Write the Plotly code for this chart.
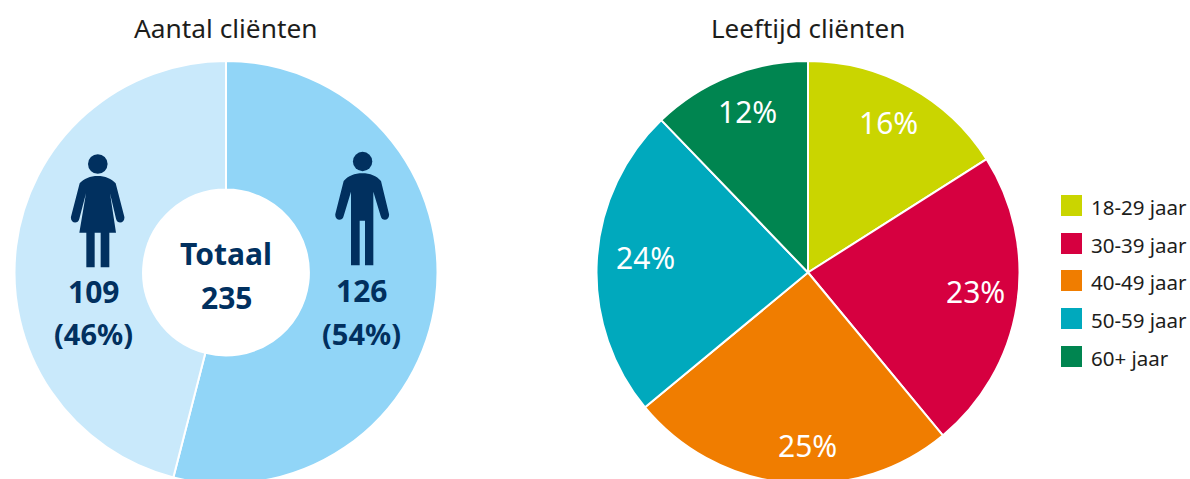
import plotly.graph_objects as go

# Data
left_title = "Aantal cliënten"
right_title = "Leeftijd cliënten"
gender_labels = ["Mannen", "Vrouwen"]
gender_counts = [126, 109]
gender_percent = [54, 46]
gender_colors = ["#91D5F7", "#C9E9FB"]
total_label = "Totaal"
total_value = 235
age_labels = ["18-29 jaar", "30-39 jaar", "40-49 jaar", "50-59 jaar", "60+ jaar"]
age_values = [16, 23, 25, 23.8, 12.2]
age_colors = ["#CAD500", "#D60040", "#F07D00", "#00A9BD", "#008550"]

NAVY = "#01305F"
FONT = "Noto Sans"
W, H = 1190, 486


def px(x):
    return x / W


def py(y):
    return 1 - y / H


def dom(cx, cy, r):
    return dict(x=[px(cx - r), px(cx + r)], y=[py(cy + r), py(cy - r)])


def path(points):
    out = []
    for cmd in points:
        c, *xy = cmd
        pairs = [f"{px(xy[i])},{py(xy[i + 1])}" for i in range(0, len(xy), 2)]
        out.append(c + " " + " ".join(pairs))
    return " ".join(out) + " Z"


def zoomed(cmds):
    out = []
    for cmd in cmds:
        c, *xy = cmd
        conv = [c]
        for i in range(0, len(xy), 2):
            conv += [xy[i] / 3, 130 + xy[i + 1] / 3]
        out.append(tuple(conv))
    return out


woman = [
    ("M", 293, 138), ("C", 315, 138, 335, 146, 347, 160),
    ("L", 373, 260), ("C", 376, 280, 352, 284, 348, 266),
    ("L", 330, 190), ("L", 348, 308), ("L", 328, 308), ("L", 328, 412),
    ("L", 302, 412), ("L", 302, 308), ("L", 284, 308), ("L", 284, 412),
    ("L", 259, 412), ("L", 259, 308), ("L", 238, 308), ("L", 258, 190),
    ("L", 238, 266), ("C", 234, 284, 210, 280, 213, 260), ("L", 239, 160),
    ("C", 251, 146, 271, 138, 293, 138),
]
man = [
    ("M", 1087, 130), ("C", 1110, 130, 1130, 138, 1143, 153),
    ("L", 1167, 252), ("C", 1170, 272, 1146, 276, 1142, 258),
    ("L", 1120, 185), ("L", 1120, 406), ("L", 1095, 406), ("L", 1095, 272),
    ("L", 1079, 272), ("L", 1079, 406), ("L", 1053, 406), ("L", 1053, 185),
    ("L", 1031, 258), ("C", 1027, 276, 1003, 272, 1006, 252), ("L", 1031, 153),
    ("C", 1044, 138, 1064, 130, 1087, 130),
]

fig = go.Figure()
fig.add_trace(go.Pie(
    labels=gender_labels, values=gender_percent, sort=False, direction="clockwise",
    rotation=0, hole=0.392, textinfo="none", hoverinfo="label+value",
    marker=dict(colors=gender_colors, line=dict(color="white", width=2)),
    domain=dom(226, 272.5, 211.5), showlegend=False,
))
fig.add_trace(go.Pie(
    labels=age_labels, values=age_values, sort=False, direction="clockwise",
    rotation=0, textinfo="none", hoverinfo="label+percent",
    marker=dict(colors=age_colors, line=dict(color="white", width=2)),
    domain=dom(808, 272.5, 211.5), showlegend=False,
))

annotations = []


def text(x, y, s, size, color="#1d1d1b", bold=False, anchor="center"):
    annotations.append(dict(
        x=px(x), y=py(y), xref="paper", yref="paper", text=f"<b>{s}</b>" if bold else s,
        showarrow=False, xanchor=anchor, yanchor="middle",
        font=dict(family=FONT, size=size, color=color),
    ))


text(226, 28, left_title, 26.3)
text(808, 28, right_title, 26)
text(226, 254, total_label, 30, NAVY, True)
text(226, 297, str(total_value), 30, NAVY, True)

text(362, 290, str(gender_counts[0]), 30, NAVY, True)
text(362, 333, f"({gender_percent[0]}%)", 29, NAVY, True)
text(93, 291, str(gender_counts[1]), 30, NAVY, True)
text(93, 333, f"({gender_percent[1]}%)", 29, NAVY, True)

pos = [(888, 122), (975, 291), (807, 445), (645, 257), (747, 111)]
for (x, y), v in zip(pos, age_values):
    text(x, y, f"{round(v)}%", 30, "white")

shapes = [
    dict(type="path", path=path(zoomed(woman)), xref="paper", yref="paper",
         fillcolor=NAVY, line=dict(width=0), layer="above"),
    dict(type="path", path=path(zoomed(man)), xref="paper", yref="paper",
         fillcolor=NAVY, line=dict(width=0), layer="above"),
    dict(type="circle", xref="paper", yref="paper", x0=px(88), x1=px(107.6),
         y0=py(173.8), y1=py(154.2), fillcolor=NAVY, line=dict(width=0), layer="above"),
    dict(type="circle", xref="paper", yref="paper", x0=px(352.9), x1=px(372.3),
         y0=py(171.2), y1=py(151.8), fillcolor=NAVY, line=dict(width=0), layer="above"),
]

tops = [195, 233, 270, 308, 346]
for top, lab, col in zip(tops, age_labels, age_colors):
    shapes.append(dict(type="rect", xref="paper", yref="paper", x0=px(1061), x1=px(1082),
                       y0=py(top + 21), y1=py(top), fillcolor=col, line=dict(width=0)))
    text(1089, top + 12, lab, 20.5, anchor="left")

fig.update_layout(
    width=W, height=H, margin=dict(l=0, r=0, t=0, b=0), autosize=False,
    paper_bgcolor="white", plot_bgcolor="white", showlegend=False,
    annotations=annotations, shapes=shapes,
)
fig.write_html("out.html", config=dict(displayModeBar=False),
               post_script="document.body.style.margin='0';document.body.style.overflow='hidden';"
                           "document.documentElement.style.overflow='hidden';")
